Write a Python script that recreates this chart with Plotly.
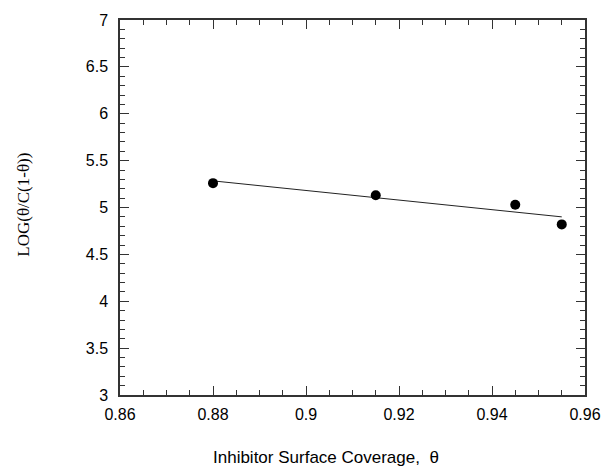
import numpy as np
import plotly.graph_objects as go

# Inhibitor surface coverage and the adsorption-isotherm ordinate
theta = [0.88, 0.915, 0.945, 0.955]
log_ratio = [5.26, 5.13, 5.03, 4.82]

x_ticks = [0.86, 0.88, 0.90, 0.92, 0.94, 0.96]
x_tick_text = ["0.86", "0.88", "0.9", "0.92", "0.94", "0.96"]
y_ticks = [3, 3.5, 4, 4.5, 5, 5.5, 6, 6.5, 7]
y_tick_text = ["3", "3.5", "4", "4.5", "5", "5.5", "6", "6.5", "7"]

# least-squares straight line through the measured points
slope, intercept = np.polyfit(theta, log_ratio, 1)
fit_x = [min(theta), max(theta)]
fit_y = [slope * v + intercept for v in fit_x]

fig = go.Figure()
fig.add_trace(go.Scatter(
    x=fit_x, y=fit_y, mode="lines",
    line=dict(color="#222222", width=1),
    showlegend=False, hoverinfo="skip",
))
fig.add_trace(go.Scatter(
    x=theta, y=log_ratio, mode="markers",
    marker=dict(color="black", size=10),
    showlegend=False,
))

axis_common = dict(
    showgrid=False, zeroline=False,
    showline=True, linecolor="#333333", linewidth=1.5, mirror="allticks",
    ticks="inside", ticklen=9, tickwidth=1, tickcolor="#333333",
    tickfont=dict(family="Liberation Sans, Arial, sans-serif", size=16, color="black"),
)

fig.update_xaxes(
    range=[0.86, 0.96], tickmode="array", tickvals=x_ticks, ticktext=x_tick_text,
    minor=dict(ticks="inside", ticklen=5, dtick=0.005, tickcolor="#333333", showgrid=False),
    ticklabelstandoff=4,
    **axis_common,
)
fig.update_yaxes(
    range=[3, 7], tickmode="array", tickvals=y_ticks, ticktext=y_tick_text,
    minor=dict(ticks="inside", ticklen=5, dtick=0.1, tickcolor="#333333", showgrid=False),
    ticklabelstandoff=7,
    **axis_common,
)

fig.update_layout(
    width=613, height=467,
    margin=dict(l=120, r=20, t=16, b=72),
    plot_bgcolor="white", paper_bgcolor="white",
    annotations=[
        dict(
            text="Inhibitor Surface Coverage,  θ",
            xref="paper", yref="paper", x=(330 - 120) / 473, y=-(458 - 395) / 379,
            xanchor="center", yanchor="middle", showarrow=False,
            font=dict(family="Liberation Sans, Arial, sans-serif", size=17, color="black"),
        ),
        dict(
            text="LOG(θ/C(1-θ))",
            xref="paper", yref="paper", x=-(120 - 21) / 473, y=(395 - 203) / 379,
            xanchor="center", yanchor="middle", showarrow=False, textangle=-90,
            font=dict(family="Liberation Serif, Times New Roman, serif", size=17, color="black"),
        ),
    ],
)

fig.write_html("out.html")
